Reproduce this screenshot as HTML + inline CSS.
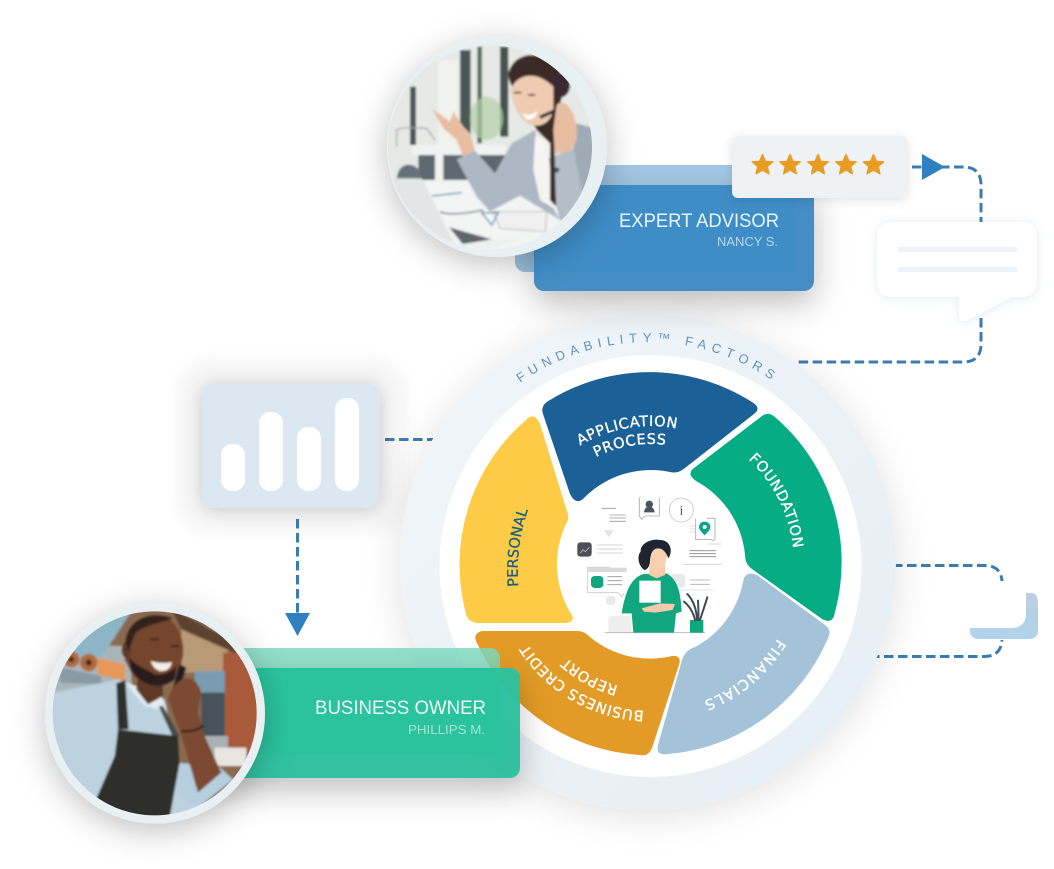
<!DOCTYPE html>
<html><head><meta charset="utf-8"><style>
html,body{margin:0;padding:0;background:#fff}
svg{display:block}
text{font-family:"Liberation Sans",sans-serif}
.lbl text{font-family:"DejaVu Sans",sans-serif}
</style></head><body>
<svg width="1054" height="869" viewBox="0 0 1054 869" xmlns="http://www.w3.org/2000/svg">
<defs>
<filter id="b6" x="-30%" y="-30%" width="160%" height="160%"><feGaussianBlur stdDeviation="6"/></filter>
<filter id="soft" x="-5%" y="-5%" width="110%" height="110%"><feGaussianBlur stdDeviation="3.5"/></filter>
<filter id="sRing" x="-20%" y="-20%" width="140%" height="140%"><feDropShadow dx="0" dy="6" stdDeviation="18" flood-color="#000" flood-opacity=".12"/></filter>
<filter id="sCard" x="-30%" y="-40%" width="160%" height="220%"><feDropShadow dx="0" dy="12" stdDeviation="16" flood-color="#000" flood-opacity=".26"/></filter>
<filter id="sPhoto" x="-40%" y="-40%" width="180%" height="180%"><feDropShadow dx="0" dy="7" stdDeviation="16" flood-color="#000" flood-opacity=".25"/></filter>
<filter id="sSmall" x="-20%" y="-30%" width="140%" height="160%"><feDropShadow dx="0" dy="2" stdDeviation="5" flood-color="#000" flood-opacity=".12"/></filter>
<filter id="sChat" x="-20%" y="-20%" width="140%" height="140%"><feDropShadow dx="0" dy="1" stdDeviation="5" flood-color="#6a9cc4" flood-opacity=".2"/></filter>
<filter id="sChart" x="-25%" y="-30%" width="150%" height="160%"><feDropShadow dx="0" dy="2" stdDeviation="9" flood-color="#000" flood-opacity=".2"/></filter>
<linearGradient id="ringG" x1="0" y1="0" x2="1" y2="1"><stop offset="0" stop-color="#f1f5f8"/><stop offset=".5" stop-color="#ebf2f7"/><stop offset="1" stop-color="#e5eef5"/></linearGradient>
<linearGradient id="lG" x1="0" y1="0" x2="0" y2="1"><stop offset="0" stop-color="#bdcfdf"/><stop offset="1" stop-color="#b0d2ec"/></linearGradient>
<clipPath id="c1"><circle cx="330" cy="352" r="306"/></clipPath>
<clipPath id="c2"><circle cx="350" cy="352" r="306"/></clipPath>
<polygon id="star" points="0,-10.5 3,-3.6 10.2,-3.2 4.8,1.5 6.4,8.8 0,5 -6.4,8.8 -4.8,1.5 -10.2,-3.2 -3,-3.6" stroke-linejoin="round" stroke="#e89d22" stroke-width="1.4"/>
<path id="pApp" d="M538,484.8A138 138 0 0 1 730.2,451"/>
<path id="pProc" d="M552.7,495.1A120 120 0 0 1 719.9,465.7"/>
<path id="pFound" d="M696.2,428.3A143 143 0 0 1 786.7,609.2"/>
<path id="pFin" d="M797.4,576.8A147 147 0 0 1 638.2,710.4"/>
<path id="pBus" d="M724.5,691.3A147 147 0 0 1 504,564"/>
<path id="pRep" d="M716.6,671.6A126 126 0 0 1 525,567"/>
<path id="pPers" d="M527,630A190 190 0 0 1 547,470"/>
<path id="pRing" d="M457.5,452A220 220 0 0 1 838.5,452"/>
</defs>
<rect width="1054" height="869" fill="#fff"/>

<!-- chart halo -->
<rect x="176" y="358" width="232" height="176" rx="34" fill="#f7f7f7" filter="url(#b6)"/>

<!-- connectors -->
<g fill="none" stroke="#3a7cb2" stroke-width="3" stroke-dasharray="9.5 4.5">
<path d="M912,167H963Q981,167 981,185V225"/>
<path d="M981,318V344Q981,362 963,362H798"/>
<path d="M385,439.5H435"/>
<path d="M297.5,519V614"/>
<path d="M893,565.5H985Q1001,566 1002,581"/>
<path d="M870,656.5H985Q1001,656 1002,640"/>
</g>

<!-- ring -->
<circle cx="648" cy="562" r="248" fill="url(#ringG)" filter="url(#sRing)"/>
<circle cx="650.5" cy="566" r="211" fill="#fff"/>
<text font-size="13" fill="#5f93bd" letter-spacing="5.5"><textPath href="#pRing" startOffset="50%" text-anchor="middle">FUNDABILITY™ FACTORS</textPath></text>

<!-- segments -->
<path fill="#1b6197" d="M550,400A191 191 0 0 1 752,402Q762,408 754,414L685,468Q678,474 670,472A94 94 0 0 0 584,498Q576,506 570,494L543,414Q540,405 550,400Z"/>
<path fill="#06ac83" d="M776,418A191 191 0 0 1 835,612Q833,625 822,619L752,569Q745,564 745,555A94 94 0 0 0 696,481Q686,474 694,468L762,416Q769,411 776,418Z"/>
<path fill="#a4c3d9" d="M757,575L825,625Q832,630 828,638A191 191 0 0 1 668,754Q655,756 658,745L682,660Q685,650 695,647A94 94 0 0 0 743,582Q745,570 757,575Z"/>
<path fill="#e29b26" d="M482,631H578Q584,631 590,637A94 94 0 0 0 672,656Q682,655 679,665L652,748Q648,757 640,755A191 191 0 0 1 478,645Q471,634 482,631Z"/>
<path fill="#fdcb45" d="M526,420Q534,411 540,424L566,508Q569,516 568,520A94 94 0 0 0 570,612Q577,622 566,623H478Q467,623 465,610A191 191 0 0 1 526,420Z"/>

<g class="lbl" font-size="14.5" fill="#fff" stroke="#fff" stroke-width=".3">
<text letter-spacing=".6"><textPath href="#pApp" startOffset="50%" text-anchor="middle">APPLICATION</textPath></text>
<text letter-spacing=".6"><textPath href="#pProc" startOffset="50%" text-anchor="middle">PROCESS</textPath></text>
<text letter-spacing=".6"><textPath href="#pFound" startOffset="50%" text-anchor="middle">FOUNDATION</textPath></text>
<text letter-spacing="1.4"><textPath href="#pFin" startOffset="50%" text-anchor="middle">FINANCIALS</textPath></text>
<text letter-spacing=".6"><textPath href="#pBus" startOffset="50%" text-anchor="middle">BUSINESS CREDIT</textPath></text>
<text letter-spacing=".4"><textPath href="#pRep" startOffset="50%" text-anchor="middle">REPORT</textPath></text>
<text fill="#1b5f80" stroke="#1b5f80" letter-spacing="0"><textPath href="#pPers" startOffset="50%" text-anchor="middle">PERSONAL</textPath></text>
</g>

<!-- illustration -->
<g transform="translate(550,480) scale(.33333)">
<g fill="none" stroke="#a9a9a9" stroke-width="2.5">
<path d="M268,52V108L275,118L285,108H328V52"/>
<circle cx="394" cy="90" r="36" stroke="#c4c4c4"/>
<path d="M437,115V178H482L490,182L495,178V115H470"/>
<path d="M155,85H198M178,105H228M178,114H228M178,124H228" stroke="#999"/>
<path d="M140,195H218M140,207H218M140,219H218" stroke="#ddd" stroke-width="4"/>
<path d="M113,262H180M113,262V338H205L215,350L222,338" stroke="#c8c8c8"/>
<path d="M172,290H216M172,302H216M172,314H216" stroke="#999"/>
<path d="M418,212H498M418,221H498M418,230H498" stroke="#888"/>
<path d="M475,192H515M400,253H515" stroke="#ccc"/>
<path d="M420,300H480M420,313H480" stroke="#bbb" stroke-width="3"/>
<path d="M355,275V330H490" stroke="#ddd"/>
<path d="M420,138H436M420,147H436M420,156H436" stroke="#ccc"/>
</g>
<path d="M298,62a11,11 0 1 1 -.1,0ZM282,97Q284,80 298,80T314,97Z" fill="#4a5560"/>
<text x="394" y="104" font-size="38" text-anchor="middle" fill="#444" style="font-family:'Liberation Serif',serif">i</text>
<path d="M464,125c-12,0 -17,9 -17,16c0,10 11,18 17,25c6,-7 17,-15 17,-25c0,-7 -5,-16 -17,-16Z" fill="#10a580"/><circle cx="464" cy="141" r="6" fill="#fff"/>
<rect x="82" y="187" width="43" height="43" rx="9" fill="#4a4f58"/>
<path d="M90,220l9,-11l7,6l12,-13" stroke="#ddd" stroke-width="2" fill="none"/>
<rect x="123" y="288" width="37" height="36" rx="11" fill="#12a67e"/>
<rect x="115" y="263" width="115" height="13" fill="#d9d9d9"/>
<rect x="365" y="282" width="40" height="40" rx="7" fill="#e9e9e9"/>
<circle cx="182" cy="361" r="15" fill="#e9e9e9"/>
<path d="M160,150H192L176,172Z" fill="#e5e5e5"/>
<rect x="175" y="408" width="70" height="50" rx="8" fill="#eee"/>
<path d="M165,458H465" stroke="#bbb" stroke-width="3"/>
<path d="M215,400C225,340 240,295 280,282L350,280C385,300 392,340 395,395L378,400L372,458H250L245,400Z" fill="#12a67e"/>
<path d="M296,225H345V285L320,295L298,285Z" fill="#f5c9a9"/>
<path d="M290,212C295,195 340,190 352,210C352,250 335,278 318,280C300,280 290,250 290,212Z" fill="#f7d0b2"/>
<path d="M283,270C262,255 262,225 272,215C270,190 305,175 330,180C362,180 370,215 355,235C350,220 340,205 325,205C305,205 302,225 300,240C300,255 295,268 283,270Z" fill="#1f2430"/>
<rect x="268" y="302" width="64" height="66" fill="#fff"/>
<path d="M275,385L330,370L375,372L368,390L315,398L282,395Z" fill="#f5c9a9"/>
<path d="M420,420H460V458H420Z" fill="#12a67e"/>
<g stroke="#3f4a55" stroke-width="6" fill="none" stroke-linecap="round"><path d="M435,420C430,395 415,375 402,365M441,420C440,390 430,360 412,342M445,420C446,395 445,375 444,362M450,420C458,395 465,375 472,352"/></g>
</g>

<!-- chart card -->
<rect x="202" y="383" width="178" height="125" rx="12" fill="#dbe8f2" filter="url(#sChart)"/>
<g fill="#fff">
<rect x="221" y="444" width="24" height="47" rx="11"/>
<rect x="259" y="412" width="24" height="79" rx="11"/>
<rect x="297" y="427" width="24" height="64" rx="11"/>
<rect x="335" y="398" width="24" height="93" rx="11"/>
</g>
<polygon points="285,613 310,613 297.5,636" fill="#2f80c0"/>

<!-- expert advisor -->
<rect x="515" y="165" width="280" height="107" rx="10" fill="#a3c8e4"/>
<rect x="534" y="185" width="280" height="106" rx="10" fill="#458dc4" filter="url(#sCard)"/>
<rect x="534" y="185" width="261" height="87" fill="#3f8dc7"/>
<text x="619" y="227" font-size="19" fill="#eaf5fb" textLength="160" lengthAdjust="spacingAndGlyphs">EXPERT ADVISOR</text>
<text x="717" y="246" font-size="12.5" fill="#b6d6ee" textLength="61" lengthAdjust="spacingAndGlyphs">NANCY S.</text>

<!-- stars -->
<rect x="732" y="136" width="175" height="62" rx="6" fill="#eff2f5" filter="url(#sSmall)"/>
<g fill="#e89d22">
<use href="#star" x="762.5" y="165"/><use href="#star" x="790" y="165"/><use href="#star" x="818" y="165"/><use href="#star" x="846" y="165"/><use href="#star" x="873.5" y="165"/>
</g>
<polygon points="922,154 945,167 922,180" fill="#2f80c0"/>

<!-- chat bubble -->
<path d="M893,222H1021Q1037,222 1037,238V281Q1037,297 1021,297H1012L968,320Q959,324 959,314V297H893Q877,297 877,281V238Q877,222 893,222Z" fill="#fff" filter="url(#sChat)"/>
<rect x="898" y="247" width="119" height="5" fill="#ebf3fa"/>
<rect x="898" y="267" width="119" height="5" fill="#ebf3fa"/>

<!-- L card -->
<path d="M1026,593H1032Q1038,593 1038,605V630Q1038,639 1029,639H979Q970,639 970,630V628H1011Q1026,628 1026,613Z" fill="url(#lG)"/>

<!-- expert photo -->
<circle cx="497" cy="147" r="110" fill="#e9f0f4" filter="url(#sPhoto)"/>
<g transform="translate(380,30) scale(.33333)">
<g clip-path="url(#c1)"><g filter="url(#soft)">
<rect x="0" y="0" width="680" height="700" fill="#e6e9e6"/>
<rect x="175" y="90" width="60" height="260" fill="#f2f2ee"/>
<rect x="90" y="170" width="18" height="175" fill="#4c5958"/>
<rect x="240" y="60" width="32" height="285" fill="#4a5856"/>
<rect x="292" y="50" width="14" height="290" fill="#5a7060"/>
<rect x="360" y="50" width="25" height="270" fill="#47524f"/>
<ellipse cx="320" cy="265" rx="50" ry="65" fill="#b3cfa6" opacity=".7"/>
<path d="M50,350V300Q60,290 140,295L165,330" fill="none" stroke="#a2a8ac" stroke-width="4"/>
<rect x="115" y="375" width="260" height="78" fill="#5d6870"/>
<rect x="95" y="345" width="280" height="30" fill="#f1f3f3"/>
<rect x="165" y="375" width="25" height="80" fill="#f2f3f3"/>
<path d="M50,455C50,415 70,400 95,405C115,410 125,430 125,455Z" fill="#65717d"/>
<rect x="0" y="450" width="680" height="250" fill="#f3f4f4"/>
<path d="M0,445H125L215,625L250,690H0Z" fill="#e3e6e6"/>
<path d="M205,590L340,628H425L320,658L245,650Z" fill="#eef0f0"/>
<polygon points="208,592 335,628 248,642" fill="#5f656c"/>
<path d="M155,498L245,488" stroke="#4a8aa8" stroke-width="4"/>
<path d="M180,545Q210,560 310,540" stroke="#4a6a70" stroke-width="4" fill="none"/>
<path d="M340,545L500,545L497,605L360,595Z" fill="#f0f0f0" stroke="#9a9a9a" stroke-width="2"/>
<path d="M305,548H355L335,585Z" fill="none" stroke="#4a8fb5" stroke-width="4"/>
<path d="M590,280L665,300V450L600,585L540,570L500,400L580,360Z" fill="#a0abb6"/>
<path d="M230,388L285,362L345,430L395,340L465,300L490,480L540,570L420,497L330,545L290,500Z" fill="#adb8c5"/>
<path d="M465,320L510,330L512,420L530,540L480,510L460,420Z" fill="#f6f4f0"/>
<path d="M505,385L580,355L612,510L565,582L540,560Z" fill="#b3bec9"/>
<circle cx="530" cy="420" r="8" fill="#3f5568"/>
<path d="M155,235L210,275L220,245L250,290L270,310L285,362L250,380L230,330L190,295Z" fill="#e8bea3"/>
<path d="M385,130C400,70 470,55 530,105L560,160L530,250L522,300L528,530L510,510L510,340L470,300C420,200 385,170 385,130Z" fill="#3a2a28"/>
<path d="M392,180C410,130 470,120 520,170L520,240C510,290 460,300 430,270C410,250 395,210 392,180Z" fill="#efcbb1"/>
<path d="M425,250Q450,262 472,243Q465,272 440,268Z" fill="#fff"/>
<path d="M402,188h22M445,195h20" stroke="#3a2a28" stroke-width="5"/>
<ellipse cx="545" cy="165" rx="25" ry="36" fill="#3b2730"/>
<path d="M480,262L525,242" stroke="#2a2a2a" stroke-width="10"/>
<path d="M530,225C550,205 580,230 590,290V330L570,365L525,370L520,300Z" fill="#e8bea3"/>
</g></g>
</g>

<!-- business owner card -->
<rect x="200" y="648" width="300" height="107" rx="10" fill="#7ddac1" fill-opacity=".83"/>
<rect x="200" y="668" width="320" height="110" rx="10" fill="#2bc19e" fill-opacity=".96" filter="url(#sCard)"/>
<rect x="200" y="668" width="300" height="87" fill="#2ac39e"/>
<text x="315" y="714" font-size="19" fill="#ecfaf6" textLength="171" lengthAdjust="spacingAndGlyphs">BUSINESS OWNER</text>
<text x="408" y="734" font-size="12.5" fill="#a3e6d3" textLength="77" lengthAdjust="spacingAndGlyphs">PHILLIPS M.</text>

<!-- owner photo -->
<circle cx="155" cy="713.5" r="110" fill="#e9f0f4" filter="url(#sPhoto)"/>
<g transform="translate(38,596) scale(.33333)">
<g clip-path="url(#c2)"><g filter="url(#soft)">
<rect x="0" y="0" width="700" height="700" fill="#8a6a50"/>
<rect x="0" y="150" width="280" height="180" fill="#aab5ba"/>
<path d="M0,0H310L190,185L60,215L0,260Z" fill="#8eb5c6"/>
<rect x="430" y="90" width="140" height="140" fill="#b89a78"/>
<path d="M400,40L600,140V175L430,100Z" fill="#5d4232"/>
<rect x="555" y="170" width="120" height="310" fill="#a85a3a"/>
<rect x="470" y="225" width="90" height="65" fill="#7a9cb0"/>
<rect x="490" y="290" width="70" height="130" fill="#45525c"/>
<rect x="490" y="420" width="80" height="90" fill="#a8b2b6"/>
<rect x="530" y="455" width="95" height="55" fill="#e8e6e0"/>
<circle cx="100" cy="190" r="24" fill="#b06a3a"/><circle cx="100" cy="190" r="8" fill="#3a2a20"/>
<circle cx="152" cy="200" r="26" fill="#b06a3a"/><circle cx="152" cy="200" r="9" fill="#3a2a20"/>
<polygon points="178,185 262,205 262,255 180,235" fill="#e8975a"/>
<polygon points="70,215 190,240 190,265 65,260" fill="#8a9aa5"/>
<path d="M0,300L240,250L270,260L380,310L420,500L480,640L400,700H100L0,600Z" fill="#bcd2df"/>
<path d="M410,500L540,510L585,550L480,635L420,600Z" fill="#b5cfdf"/>
<path d="M265,260L370,300L385,345L320,330L285,290Z" fill="#e1ecf3"/>
<path d="M300,240H375V300L330,325L295,280Z" fill="#5f3826"/>
<path d="M235,262L262,252L272,400L240,400Z" fill="#2f2d2c"/>
<path d="M362,330L375,330L425,420L405,425Z" fill="#4a4a48"/>
<path d="M240,400L420,420L425,500L395,665H150L230,480Z" fill="#2f2d2c"/>
<path d="M262,130C270,70 330,50 380,60C420,80 440,130 435,180L420,240C380,280 320,280 280,230L260,190Z" fill="#74452f"/>
<ellipse cx="265" cy="162" rx="14" ry="24" fill="#5f3826"/>
<path d="M262,140C270,65 340,42 405,66C370,82 310,88 290,115L272,165Z" fill="#33231c"/>
<path d="M272,180C290,210 330,220 350,235C380,240 410,220 415,210L410,250C370,285 310,270 280,225Z" fill="#2b1e1a"/>
<path d="M338,195Q375,205 402,198Q395,228 365,225Q345,218 338,195Z" fill="#f4eee8"/>
<path d="M335,130h28M400,150h22" stroke="#2a1d18" stroke-width="5"/>
<path d="M400,290L425,205L445,215L420,300Z" fill="#1e1e22"/>
<path d="M390,310C410,240 470,220 490,290L480,350L500,420L550,530L480,590L430,420Z" fill="#7b4a33"/>
<path d="M430,405Q470,410 497,388" stroke="#2a1a16" stroke-width="6" fill="none"/>
</g></g>
</g>
</svg>
</body></html>
